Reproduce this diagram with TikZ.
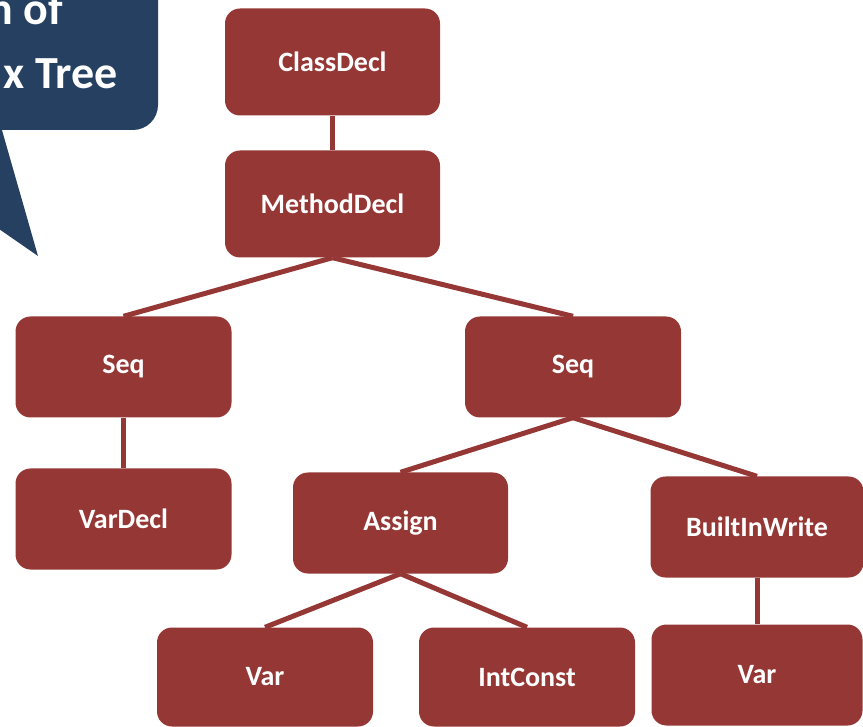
\documentclass[tikz,border=0pt]{standalone}
\usepackage{fontspec}
\setmainfont{Carlito}
\usetikzlibrary{backgrounds}
\definecolor{boxred}{HTML}{953735}
\definecolor{callblue}{HTML}{254061}
\tikzset{
  astnode/.style={rectangle, rounded corners=15pt, fill=boxred, text=white, inner sep=0pt,
    font=\bfseries\fontsize{28}{32}\selectfont},
  astedge/.style={draw=boxred, line width=5pt},
  calltext/.style={text=white, inner sep=0pt, font=\bfseries\fontsize{46}{52}\selectfont}
}
\begin{document}
\begin{tikzpicture}[x=1pt,y=-1pt]
\useasboundingbox (0,0) rectangle (863,727);
% callout
\fill[callblue, rounded corners=25pt] (-120,-120) rectangle (158,130);
\fill[callblue] (-40,125) -- (0.5,125) -- (38,256) -- (-40,202) -- cycle;
\node[calltext, anchor=base east] (t1) at (63,25) {n of};
\node[calltext, anchor=base east] (t2) at (118,89) {x Tree};
% nodes
\node[astnode, minimum width=215pt, minimum height=107pt] (cd) at (332.5,62) {ClassDecl};
\node[astnode, minimum width=215pt, minimum height=107pt] (md) at (332.5,204) {MethodDecl};
\node[astnode, minimum width=216pt, minimum height=101pt] (sl) at (123.5,367) {Seq};
\node[astnode, minimum width=216pt, minimum height=101pt] (sr) at (573,367) {Seq};
\node[astnode, minimum width=216pt, minimum height=101pt] (vd) at (123.5,519) {VarDecl};
\node[astnode, minimum width=215pt, minimum height=101pt] (as) at (400.5,523) {Assign};
\node[astnode, minimum width=213pt, minimum height=101pt] (bw) at (757,527) {BuiltInWrite};
\node[astnode, minimum width=216pt, minimum height=99pt] (v1) at (265,677) {Var};
\node[astnode, minimum width=216pt, minimum height=99pt] (ic) at (527,677) {IntConst};
\node[astnode, minimum width=211pt, minimum height=101pt] (v2) at (757,675) {Var};
% edges
\begin{scope}[on background layer]
\draw[astedge] (cd.south) -- (md.north);
\draw[astedge] (md.south) -- (sl.north);
\draw[astedge] (md.south) -- (sr.north);
\draw[astedge] (sl.south) -- (vd.north);
\draw[astedge] (sr.south) -- (as.north);
\draw[astedge] (sr.south) -- (bw.north);
\draw[astedge] (as.south) -- (v1.north);
\draw[astedge] (as.south) -- (ic.north);
\draw[astedge] (bw.south) -- (v2.north);
\end{scope}
\end{tikzpicture}
\end{document}
